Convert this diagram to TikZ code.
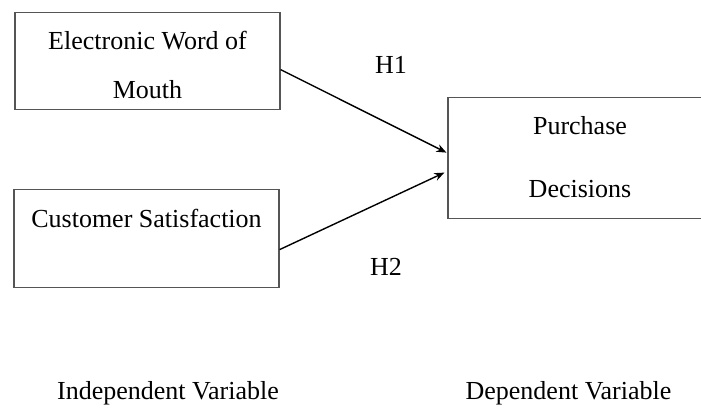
\documentclass[tikz,border=0pt]{standalone}
\usepackage{fontspec}
\setmainfont{Liberation Serif}
\usetikzlibrary{arrows.meta, positioning}
\definecolor{boxGray}{HTML}{555555}

\begin{document}
\begin{tikzpicture}[
    x=0.5pt, y=-0.5pt,
    varbox/.style={rectangle, draw=boxGray, line width=0.6pt, anchor=north,
                   inner sep=0pt, align=center},
    hyp/.style={font=\fontsize{13}{15}\selectfont, anchor=base},
    link/.style={-{Stealth[length=5pt, width=4pt]}, line width=0.7pt},
  ]
    \useasboundingbox (0,0) rectangle (701,409);
    \clip (0,0) rectangle (701,409);

    \node[varbox, minimum width=132.5pt, text height=43pt, text depth=5.5pt,
          font=\fontsize{13}{24.5}\selectfont] (ewom) at (147.5,12)
          {Electronic Word of\\Mouth};
    \node[varbox, minimum width=132.5pt, text height=19pt, text depth=30pt,
          font=\fontsize{13}{15}\selectfont] (satisf) at (146.5,189)
          {Customer Satisfaction};
    \node[varbox, minimum width=132pt, text height=50pt, text depth=10.5pt,
          font=\fontsize{13}{31.5}\selectfont] (purchase) at (580,97)
          {Purchase\\Decisions};

    \draw[link] ([yshift=-4.25pt]ewom.east) -- ([xshift=-0.5pt, yshift=2.75pt]purchase.west);
    \draw[link] ([yshift=-5.5pt]satisf.east) -- ([xshift=-1.5pt, yshift=-7.25pt]purchase.west);

    \node[hyp] (h1) at (391,73) {H1};
    \node[hyp] (h2) at (386,275) {H2};

    \node[hyp] (indep) at (168,399) {Independent Variable};
    \node[hyp] (dep) at (568.5,399) {Dependent Variable};
  \end{tikzpicture}
\end{document}
